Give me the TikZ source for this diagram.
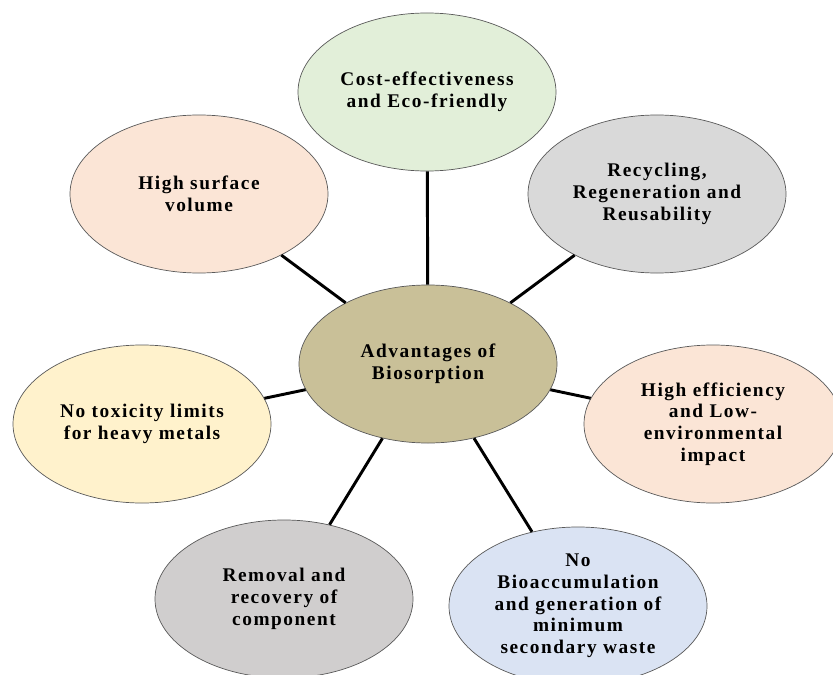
\documentclass[tikz,border=0pt]{standalone}
\usepackage{fontspec}
\setmainfont{Liberation Serif}
\newfontfamily\bubblefont[LetterSpace=8]{Liberation Serif}
\usetikzlibrary{shapes.geometric}

\definecolor{khaki}{RGB}{201,192,152}
\definecolor{mint}{HTML}{E2EFD9}
\definecolor{peach}{HTML}{FBE5D6}
\definecolor{silver}{HTML}{D9D9D9}
\definecolor{cream}{HTML}{FFF2CC}
\definecolor{stone}{HTML}{D0CECE}
\definecolor{sky}{HTML}{DAE3F3}

\begin{document}
\begin{tikzpicture}[x=0.03cm, y=-0.03cm,
    bubble/.style={ellipse, draw=black!65, line width=0.6pt,
        minimum width=7.74cm, minimum height=4.74cm, inner sep=0pt,
        align=center, font=\bubblefont\fontsize{16.5}{18.5}\selectfont\bfseries}]
    \useasboundingbox (0,0) rectangle (833,675);

    \draw (428,364) node[bubble, fill=khaki](a0){Advantages of\\Biosorption}
       (427,92) node[bubble, fill=mint](a1){Cost-effectiveness\\and Eco-friendly}
       (657,194) node[bubble, fill=silver](a2){Recycling,\\Regeneration and\\Reusability}
       (713,424) node[bubble, fill=peach](a3){High efficiency\\and Low-\\environmental\\impact}
       (578,606) node[bubble, fill=sky](a4){No\\Bioaccumulation\\and generation of\\minimum\\secondary waste}
       (284,599) node[bubble, fill=stone](a5){Removal and\\recovery of\\component}
       (142,424) node[bubble, fill=cream](a6){No toxicity limits\\for heavy metals}
       (199,194) node[bubble, fill=peach](a7){High surface\\volume};

    % spokes from the centre
    \foreach \i in {1,...,7}
        \draw[line width=2.5pt] (a0) -- (a\i);
\end{tikzpicture}
\end{document}
